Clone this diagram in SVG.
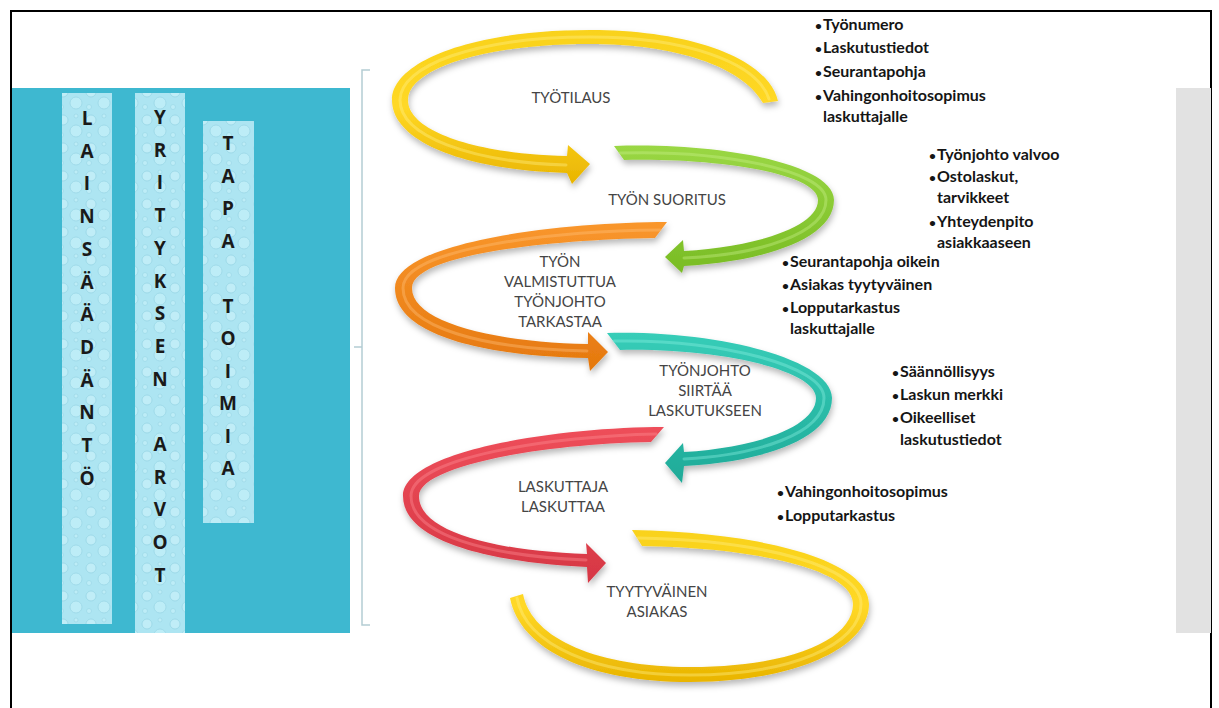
<svg xmlns="http://www.w3.org/2000/svg" width="1219" height="708" viewBox="0 0 1219 708">
<style>
.col{font-family:"Open Sans","Liberation Sans",sans-serif;font-weight:bold;font-size:19px;fill:#1a1a1a;text-anchor:middle}
.lbl{font-family:Lato,"Liberation Sans",sans-serif;font-size:15px;fill:#454545;text-anchor:middle}
.bul{font-family:Lato,"Liberation Sans",sans-serif;font-weight:bold;font-size:16px;fill:#151515}
.dot{font-size:12px}
.hl{fill:none;stroke-width:3;stroke-linecap:round;opacity:.4}
</style>
<defs>
<pattern id="drops" width="28" height="28" patternUnits="userSpaceOnUse">
<rect width="28" height="28" fill="#ADE5F2"/>
<circle cx="7" cy="8" r="5" fill="#C8F1FA" stroke="#86CADB" stroke-width=".7" opacity=".7"/>
<circle cx="20" cy="19" r="6" fill="#C8F1FA" stroke="#86CADB" stroke-width=".7" opacity=".6"/>
<circle cx="20" cy="4" r="2" fill="#C8F1FA" stroke="#86CADB" stroke-width=".6" opacity=".6"/>
<circle cx="5" cy="23" r="2.5" fill="#C8F1FA" stroke="#86CADB" stroke-width=".6" opacity=".6"/>
</pattern>
<filter id="sh" x="-10%" y="-10%" width="120%" height="130%">
<feDropShadow dx="1" dy="4" stdDeviation="3" flood-color="#000" flood-opacity=".28"/>
</filter>
<linearGradient id="gY" x1="0" y1="0" x2="0" y2="1"><stop offset="0" stop-color="#F9D21A"/><stop offset=".5" stop-color="#FFD826"/><stop offset="1" stop-color="#E9B400"/></linearGradient>
<linearGradient id="gG" x1="0" y1="0" x2="0" y2="1"><stop offset="0" stop-color="#9AD744"/><stop offset="1" stop-color="#79BC24"/></linearGradient>
<linearGradient id="gO" x1="0" y1="0" x2="0" y2="1"><stop offset="0" stop-color="#F9962C"/><stop offset="1" stop-color="#E5780E"/></linearGradient>
<linearGradient id="gT" x1="0" y1="0" x2="0" y2="1"><stop offset="0" stop-color="#37CDB8"/><stop offset="1" stop-color="#1FAA98"/></linearGradient>
<linearGradient id="gR" x1="0" y1="0" x2="0" y2="1"><stop offset="0" stop-color="#EE4E5A"/><stop offset="1" stop-color="#D63744"/></linearGradient>
</defs>
<rect width="1219" height="708" fill="#fff"/>
<path d="M11,708 V11 H1211 V708" fill="none" stroke="#000" stroke-width="2"/>

<g id="background">
<rect x="12" y="88" width="338" height="545" fill="#3EB8D0"/>
<rect x="1176" y="88" width="35" height="545" fill="#E2E2E2"/>
<path d="M370,70 H362 V625 H370 M362,347 H354" fill="none" stroke="#B4CDD3" stroke-width="1.5"/>
</g>

<g id="col-lainsaadanto">
<rect x="62" y="93" width="50" height="531" fill="url(#drops)"/>
<text class="col" x="87" y="125">L</text><text class="col" x="87" y="158">A</text><text class="col" x="87" y="190">I</text><text class="col" x="87" y="223">N</text><text class="col" x="87" y="256">S</text><text class="col" x="87" y="289">Ä</text><text class="col" x="87" y="321">Ä</text><text class="col" x="87" y="354">D</text><text class="col" x="87" y="387">Ä</text><text class="col" x="87" y="419">N</text><text class="col" x="87" y="452">T</text><text class="col" x="87" y="485">Ö</text>
</g>
<g id="col-yrityksen-arvot">
<rect x="135" y="93" width="50" height="540" fill="url(#drops)"/>
<text class="col" x="160" y="124">Y</text><text class="col" x="160" y="157">R</text><text class="col" x="160" y="189">I</text><text class="col" x="160" y="222">T</text><text class="col" x="160" y="255">Y</text><text class="col" x="160" y="288">K</text><text class="col" x="160" y="320">S</text><text class="col" x="160" y="353">E</text><text class="col" x="160" y="386">N</text><text class="col" x="160" y="451">A</text><text class="col" x="160" y="484">R</text><text class="col" x="160" y="516">V</text><text class="col" x="160" y="549">O</text><text class="col" x="160" y="582">T</text>
</g>
<g id="col-tapa-toimia">
<rect x="203" y="121" width="51" height="402" fill="url(#drops)"/>
<text class="col" x="228" y="150">T</text><text class="col" x="228" y="183">A</text><text class="col" x="228" y="215">P</text><text class="col" x="228" y="248">A</text><text class="col" x="228" y="313">T</text><text class="col" x="228" y="345">O</text><text class="col" x="228" y="378">I</text><text class="col" x="228" y="410">M</text><text class="col" x="228" y="443">I</text><text class="col" x="228" y="475">A</text>
</g>

<g id="connectors">
<g filter="url(#sh)">
<path fill="url(#gY)" d="M778,101 C768,58 690,30 590,30 C470,30 392,62 392,100 C392,142 465,170 567,173 L572,184 L590,164 L568,145 L567,156 C475,154 408,131 408,100 C408,70 480,44 590,44 C675,44 742,66 763,103 Z"/>
<path fill="url(#gG)" d="M614,146 C720,142 834,164 834,200 C834,240 760,262 684,266 L682,273 L665,257 L683,240 L684,251 C752,247 818,228 818,200 C818,174 722,158 624,160 Z"/>
<path fill="url(#gO)" d="M667,222 C560,222 395,242 395,288 C395,334 480,356 588,358 L590,371 L608,352 L588,332 L588,344 C492,342 412,322 412,288 C412,256 540,240 655,238 Z"/>
<path fill="url(#gT)" d="M607,333 C720,330 832,360 832,398 C832,440 760,462 684,466 L682,483 L665,463 L683,443 L684,452 C752,448 816,428 816,398 C816,370 720,348 620,350 Z"/>
<path fill="url(#gR)" d="M664,427 C560,427 403,450 403,496 C403,540 485,562 587,567 L588,583 L606,563 L586,543 L587,554 C495,551 419,532 419,496 C419,466 540,444 651,442 Z"/>
<path fill="url(#gY)" d="M632,530 C760,532 869,560 869,604 C869,650 790,682 690,682 C590,682 520,650 510,598 L523,594 C532,640 600,667 690,667 C790,667 853,640 853,604 C853,570 760,548 642,546 Z"/>
</g>
<path class="hl" stroke="#FFF08A" d="M769,99 C757,62 685,37 590,37 C475,37 400,66 400,100 C400,136 470,162 566,165"/>
<path class="hl" stroke="#C9F08A" d="M620,153 C720,150 826,170 826,200 C826,234 757,255 684,258"/>
<path class="hl" stroke="#FFC07A" d="M660,230 C555,231 403,248 403,288 C403,328 485,349 587,351"/>
<path class="hl" stroke="#8AF0E0" d="M614,341 C720,339 824,366 824,398 C824,434 757,455 684,459"/>
<path class="hl" stroke="#FF8E96" d="M656,434 C555,436 411,457 411,496 C411,535 488,556 586,560"/>
<path class="hl" stroke="#FFF08A" d="M638,538 C760,540 861,566 861,604 C861,645 790,675 690,675 C595,675 526,645 517,598"/>
</g>

<g id="step-tyotilaus"><text class="lbl" x="571" y="103">TYÖTILAUS</text></g>
<g id="step-tyon-suoritus"><text class="lbl" x="667" y="205">TYÖN SUORITUS</text></g>
<g id="step-tarkastaa"><text class="lbl" x="560" y="267">TYÖN</text><text class="lbl" x="560" y="287">VALMISTUTTUA</text><text class="lbl" x="560" y="307">TYÖNJOHTO</text><text class="lbl" x="560" y="327">TARKASTAA</text></g>
<g id="step-siirtaa"><text class="lbl" x="705" y="376">TYÖNJOHTO</text><text class="lbl" x="705" y="396">SIIRTÄÄ</text><text class="lbl" x="705" y="416">LASKUTUKSEEN</text></g>
<g id="step-laskuttaa"><text class="lbl" x="563" y="492">LASKUTTAJA</text><text class="lbl" x="563" y="512">LASKUTTAA</text></g>
<g id="step-asiakas"><text class="lbl" x="657" y="597">TYYTYVÄINEN</text><text class="lbl" x="657" y="617">ASIAKAS</text></g>

<g id="list-1" class="bul">
<text x="815" y="30"><tspan class="dot">•</tspan><tspan x="823">Työnumero</tspan></text>
<text x="815" y="53"><tspan class="dot">•</tspan><tspan x="823">Laskutustiedot</tspan></text>
<text x="815" y="77"><tspan class="dot">•</tspan><tspan x="823">Seurantapohja</tspan></text>
<text x="815" y="101"><tspan class="dot">•</tspan><tspan x="823">Vahingonhoitosopimus</tspan></text>
<text x="823" y="122">laskuttajalle</text>
</g>
<g id="list-2" class="bul">
<text x="929" y="160"><tspan class="dot">•</tspan><tspan x="937">Työnjohto valvoo</tspan></text>
<text x="929" y="182"><tspan class="dot">•</tspan><tspan x="937">Ostolaskut,</tspan></text>
<text x="937" y="203">tarvikkeet</text>
<text x="929" y="227"><tspan class="dot">•</tspan><tspan x="937">Yhteydenpito</tspan></text>
<text x="937" y="248">asiakkaaseen</text>
</g>
<g id="list-3" class="bul">
<text x="782" y="267"><tspan class="dot">•</tspan><tspan x="790">Seurantapohja oikein</tspan></text>
<text x="782" y="290"><tspan class="dot">•</tspan><tspan x="790">Asiakas tyytyväinen</tspan></text>
<text x="782" y="313"><tspan class="dot">•</tspan><tspan x="790">Lopputarkastus</tspan></text>
<text x="790" y="334">laskuttajalle</text>
</g>
<g id="list-4" class="bul">
<text x="892" y="377"><tspan class="dot">•</tspan><tspan x="900">Säännöllisyys</tspan></text>
<text x="892" y="400"><tspan class="dot">•</tspan><tspan x="900">Laskun merkki</tspan></text>
<text x="892" y="423"><tspan class="dot">•</tspan><tspan x="900">Oikeelliset</tspan></text>
<text x="900" y="445">laskutustiedot</text>
</g>
<g id="list-5" class="bul">
<text x="777" y="497"><tspan class="dot">•</tspan><tspan x="785">Vahingonhoitosopimus</tspan></text>
<text x="777" y="521"><tspan class="dot">•</tspan><tspan x="785">Lopputarkastus</tspan></text>
</g>
</svg>
